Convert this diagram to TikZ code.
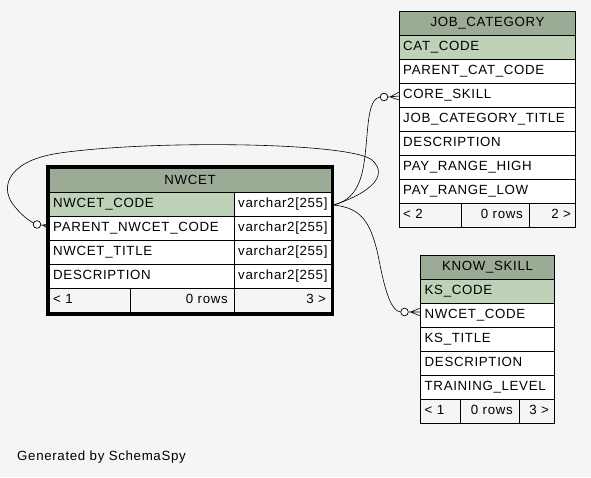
\documentclass[tikz,border=0pt]{standalone}
\usepackage{fontspec}
\setmainfont{Liberation Sans}[LetterSpace=5]
\usetikzlibrary{calc}
\definecolor{bg}{HTML}{F5F5F5}
\definecolor{hdrg}{HTML}{9BAB96}
\definecolor{keyg}{HTML}{BED2B8}
\definecolor{footg}{HTML}{F5F5F5}
\begin{document}
\begin{tikzpicture}[x=1pt,y=-1pt,
  cell/.style={draw=black,line width=0.8pt},
  txt/.style={anchor=base west,inner sep=0pt,font=\fontsize{13.3}{14}\selectfont},
  txtr/.style={anchor=base east,inner sep=0pt,font=\fontsize{13.3}{14}\selectfont},
  txtc/.style={anchor=base,inner sep=0pt,font=\fontsize{13.3}{14}\selectfont},
  conn/.style={draw=black,line width=0.6pt},
  opt/.style={draw=black,fill=white,line width=0.7pt}]
\fill[bg] (0,0) rectangle (591,477);
\useasboundingbox (0,0) rectangle (591,477);

% ---------- NWCET ----------
\fill[hdrg] (49,168.3) rectangle (331,192.7);
\fill[keyg] (49,192.7) rectangle (234,216.7);
\fill[white] (234,192.7) rectangle (331,216.7);
\fill[white] (49,216.7) rectangle (331,288.7);
\fill[footg] (49,288.7) rectangle (331,312.7);
\foreach \y in {192.7,216.7,240.7,264.7,288.7}
  \draw[cell] (49,\y) -- (331,\y);
\draw[cell] (234,192.7) -- (234,312.7);
\draw[cell] (130,288.7) -- (130,312.7);
\draw[cell] (49,168.3) rectangle (331,312.7);
\draw[line width=3pt] (47,166.8) rectangle (332.5,314.2);
\node[txtc] (nwh) at (190,184.5) {NWCET};
\node[txt] (nw1) at (53,207.4) {NWCET\_CODE};
\node[txt] (nw2) at (53,231.4) {PARENT\_NWCET\_CODE};
\node[txt] (nw3) at (53,255.4) {NWCET\_TITLE};
\node[txt] (nw4) at (53,279.4) {DESCRIPTION};
\node[txt] (nt1) at (238,207.4) {varchar2[255]};
\node[txt] (nt2) at (238,231.4) {varchar2[255]};
\node[txt] (nt3) at (238,255.4) {varchar2[255]};
\node[txt] (nt4) at (238,279.4) {varchar2[255]};
\node[txt] (nf1) at (53,303.4) {< 1};
\node[txtr] (nf2) at (228,303.4) {0 rows};
\node[txtr] (nf3) at (326,303.4) {3 >};

% ---------- JOB_CATEGORY ----------
\fill[hdrg] (399.3,11.7) rectangle (575.7,35.7);
\fill[keyg] (399.3,35.7) rectangle (575.7,59.7);
\fill[white] (399.3,59.7) rectangle (575.7,203.7);
\fill[footg] (399.3,203.7) rectangle (575.7,227.7);
\foreach \y in {35.7,59.7,83.7,107.7,131.7,155.7,179.7,203.7}
  \draw[cell] (399.3,\y) -- (575.7,\y);
\draw[cell] (461,203.7) -- (461,227.7);
\draw[cell] (529,203.7) -- (529,227.7);
\draw[cell] (399.3,11.7) rectangle (575.7,227.7);
\node[txtc] (jh) at (487.5,26.2) {JOB\_CATEGORY};
\node[txt] (j1) at (403,50.4) {CAT\_CODE};
\node[txt] (j2) at (403,74.4) {PARENT\_CAT\_CODE};
\node[txt] (j3) at (403,98.4) {CORE\_SKILL};
\node[txt] (j4) at (403,122.4) {JOB\_CATEGORY\_TITLE};
\node[txt] (j5) at (403,146.4) {DESCRIPTION};
\node[txt] (j6) at (403,170.4) {PAY\_RANGE\_HIGH};
\node[txt] (j7) at (403,194.4) {PAY\_RANGE\_LOW};
\node[txt] (jf1) at (403,218.4) {< 2};
\node[txtr] (jf2) at (523,218.4) {0 rows};
\node[txtr] (jf3) at (571,218.4) {2 >};

% ---------- KNOW_SKILL ----------
\fill[hdrg] (420.7,255.7) rectangle (554.3,279.5);
\fill[keyg] (420.7,279.5) rectangle (554.3,303.5);
\fill[white] (420.7,303.5) rectangle (554.3,399.5);
\fill[footg] (420.7,399.5) rectangle (554.3,423.5);
\foreach \y in {279.5,303.5,327.5,351.5,375.5,399.5}
  \draw[cell] (420.7,\y) -- (554.3,\y);
\draw[cell] (460.7,399.5) -- (460.7,423.5);
\draw[cell] (519,399.5) -- (519,423.5);
\draw[cell] (420.7,255.7) rectangle (554.3,423.5);
\node[txtc] (kh) at (487.5,270) {KNOW\_SKILL};
\node[txt] (k1) at (424.5,294.2) {KS\_CODE};
\node[txt] (k2) at (424.5,318.2) {NWCET\_CODE};
\node[txt] (k3) at (424.5,342.2) {KS\_TITLE};
\node[txt] (k4) at (424.5,366.2) {DESCRIPTION};
\node[txt] (k5) at (424.5,390.2) {TRAINING\_LEVEL};
\node[txt] (kf1) at (424.5,414.2) {< 1};
\node[txtr] (kf2) at (513,414.2) {0 rows};
\node[txtr] (kf3) at (549,414.2) {3 >};

% ---------- connectors ----------
\coordinate (src) at (333.5,205);
\coordinate (jc) at (384,97);
\coordinate (jend) at (399.3,96);
\coordinate (kc) at (404.5,312);
\coordinate (kend) at (420.7,312);
\coordinate (sc) at (37,224.5);
\coordinate (send) at (49,226.5);

\draw[conn] (src) .. controls (362,198) and (364,170) .. (367,135)
  .. controls (369,112) and (371,99) .. ($(jc)+(-4,0)$);
\draw[conn] (src) .. controls (362,208) and (372,222) .. (380,265)
  .. controls (386,295) and (392,311) .. ($(kc)+(-4,0)$);
\draw[conn] (src) .. controls (362,196) and (392,178) .. (372,160)
  .. controls (350,142) and (150,140) .. (60,153)
  .. controls (10,160) and (0,185) .. (12,203)
  .. controls (20,214) and (28,220) .. ($(sc)+(-3.5,-1.5)$);

% crow's feet + optional circles
\draw[conn] ($(jc)+(4,0)$) -- (jend) ($(jc)+(6,0)$) -- ($(jend)+(0,-4)$) ($(jc)+(6,0)$) -- ($(jend)+(0,4)$);
\draw[opt] (jc) circle (3.8);
\draw[conn] ($(kc)+(4,0)$) -- (kend) ($(kc)+(6,0)$) -- ($(kend)+(0,-4)$) ($(kc)+(6,0)$) -- ($(kend)+(0,4)$);
\draw[opt] (kc) circle (3.8);
\draw[conn] ($(sc)+(4,0.5)$) -- (send) ($(sc)+(6,0.5)$) -- ($(send)+(0,-3)$) ($(sc)+(6,0.5)$) -- ($(send)+(0,3)$);
\draw[opt] (sc) circle (3.8);

\node[txt] (gen) at (17,460.7) {Generated by SchemaSpy};
\end{tikzpicture}
\end{document}
